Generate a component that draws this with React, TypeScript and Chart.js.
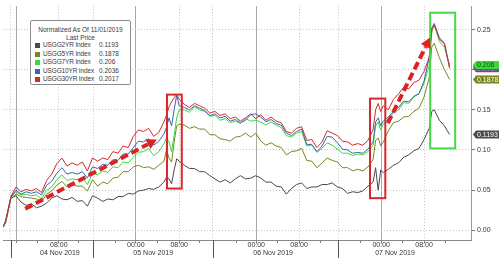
import React, { useEffect, useRef } from 'react';
import { Chart, registerables } from 'chart.js';

Chart.register(...registerables);

// ---- data ----
const seriesNames = ['USGG2YR Index', 'USGG5YR Index', 'USGG7YR Index', 'USGG10YR Index', 'USGG30YR Index'];
const lastPrices = ['0.1193', '0.1878', '0.206', '0.2036', '0.2017'];
const seriesColors = ['#4a4a4a', '#76871f', '#3ad83a', '#3568b0', '#d42a2a'];

// time position (approx. hours since 04 Nov 00:00)
const timeIdx = [-2.5, -2, -1, 0, 1, 2, 3, 4, 5, 6, 7, 8, 9, 10, 11, 12, 13, 14, 15, 16, 17, 18, 19, 20, 21, 22, 23, 24, 25, 26, 27, 28,
  29, 29.5, 30, 30.5, 31, 31.5, 32, 33, 34, 35, 36, 37, 38, 39, 40, 41, 42, 43, 44, 45, 46, 47, 48, 49, 50, 51, 52, 53, 54, 55, 56, 57, 58,
  59, 60, 61, 62, 63, 64, 65, 66, 67, 68, 69, 70, 70.5, 71, 71.5, 72, 73, 74, 75, 76, 77, 78, 79, 80, 81, 81.5, 82, 83, 84, 85];

const usgg2 = [0.004, 0.010, 0.040, 0.043,
  0.035, 0.031, 0.033, 0.028, 0.030, 0.034, 0.040, 0.043, 0.039, 0.038, 0.041, 0.036, 0.037, 0.030, 0.043,
  0.040, 0.036, 0.039, 0.038, 0.042, 0.042, 0.046, 0.045, 0.049, 0.050, 0.052, 0.051, 0.054,
  0.060, 0.066, 0.064, 0.058, 0.075, 0.089, 0.086,
  0.081, 0.077, 0.077, 0.073, 0.073, 0.068, 0.064, 0.060, 0.063, 0.059, 0.064, 0.068, 0.064, 0.065, 0.068,
  0.065, 0.060, 0.060, 0.055, 0.054, 0.045, 0.052, 0.057, 0.059, 0.052, 0.054, 0.054, 0.057, 0.057, 0.059, 0.054, 0.052, 0.046, 0.048, 0.047, 0.049, 0.055,
  0.060, 0.078, 0.050, 0.075, 0.072,
  0.076, 0.081, 0.084, 0.091, 0.094, 0.099, 0.102, 0.113, 0.127,
  0.148, 0.150, 0.137, 0.130, 0.1193];

const usgg5 = [0.004, 0.012, 0.040, 0.045,
  0.042, 0.041, 0.040, 0.039, 0.035, 0.045, 0.049, 0.056, 0.061, 0.054, 0.057, 0.055, 0.055, 0.049, 0.063,
  0.055, 0.060, 0.058, 0.065, 0.066, 0.073, 0.073, 0.079, 0.081, 0.078, 0.079, 0.076, 0.081,
  0.086, 0.100, 0.090, 0.085, 0.110, 0.130, 0.132,
  0.131, 0.127, 0.129, 0.126, 0.126, 0.119, 0.119, 0.114, 0.113, 0.111, 0.116, 0.117, 0.121, 0.116, 0.121,
  0.111, 0.106, 0.109, 0.105, 0.103, 0.094, 0.098, 0.099, 0.102, 0.087, 0.086, 0.078, 0.084, 0.090, 0.087, 0.085, 0.078, 0.078, 0.074, 0.076, 0.074, 0.079,
  0.088, 0.112, 0.115, 0.105, 0.110,
  0.124, 0.134, 0.136, 0.141, 0.142, 0.148, 0.152, 0.166, 0.190,
  0.228, 0.233, 0.215, 0.200, 0.1878];

const usgg7 = [0.004, 0.012, 0.041, 0.048,
  0.044, 0.045, 0.043, 0.044, 0.039, 0.050, 0.054, 0.063, 0.069, 0.062, 0.064, 0.063, 0.065, 0.057, 0.071,
  0.069, 0.074, 0.072, 0.079, 0.078, 0.085, 0.084, 0.091, 0.097, 0.098, 0.102, 0.093, 0.098,
  0.108, 0.115, 0.110, 0.098, 0.118, 0.140, 0.150,
  0.150, 0.147, 0.154, 0.150, 0.148, 0.142, 0.143, 0.137, 0.139, 0.134, 0.136, 0.133, 0.139, 0.136, 0.137,
  0.135, 0.131, 0.135, 0.131, 0.128, 0.118, 0.116, 0.121, 0.123, 0.105, 0.106, 0.097, 0.102, 0.109, 0.106, 0.101, 0.096, 0.096, 0.093, 0.095, 0.094, 0.098,
  0.106, 0.130, 0.135, 0.125, 0.132,
  0.139, 0.146, 0.150, 0.159, 0.158, 0.166, 0.170, 0.183, 0.205,
  0.245, 0.258, 0.235, 0.228, 0.206];

const usgg10 = [0.004, 0.012, 0.041, 0.050,
  0.045, 0.048, 0.046, 0.048, 0.044, 0.056, 0.061, 0.071, 0.078, 0.070, 0.072, 0.070, 0.073, 0.065, 0.079,
  0.077, 0.082, 0.081, 0.088, 0.087, 0.095, 0.095, 0.103, 0.111, 0.110, 0.114, 0.106, 0.111,
  0.120, 0.128, 0.140, 0.130, 0.150, 0.168, 0.155,
  0.153, 0.150, 0.155, 0.152, 0.149, 0.143, 0.145, 0.140, 0.142, 0.136, 0.138, 0.134, 0.137, 0.144, 0.145,
  0.141, 0.135, 0.138, 0.133, 0.131, 0.121, 0.118, 0.123, 0.126, 0.107, 0.107, 0.098, 0.105, 0.117, 0.116, 0.109, 0.101, 0.100, 0.096, 0.097, 0.096, 0.101,
  0.110, 0.135, 0.140, 0.130, 0.136,
  0.141, 0.148, 0.153, 0.161, 0.160, 0.167, 0.170, 0.186, 0.215,
  0.252, 0.257, 0.240, 0.233, 0.2036];

const usgg30 = [0.004, 0.013, 0.042, 0.054,
  0.048, 0.051, 0.049, 0.052, 0.047, 0.062, 0.070, 0.083, 0.090, 0.080, 0.084, 0.081, 0.085, 0.074, 0.090,
  0.086, 0.090, 0.088, 0.098, 0.096, 0.105, 0.103, 0.117, 0.125, 0.123, 0.127, 0.117, 0.122,
  0.135, 0.143, 0.154, 0.160, 0.165, 0.169, 0.163,
  0.157, 0.153, 0.158, 0.155, 0.152, 0.146, 0.148, 0.143, 0.145, 0.139, 0.141, 0.136, 0.140, 0.145, 0.139,
  0.144, 0.137, 0.141, 0.136, 0.134, 0.123, 0.121, 0.127, 0.129, 0.112, 0.113, 0.103, 0.110, 0.124, 0.121, 0.118, 0.111, 0.110, 0.106, 0.108, 0.106, 0.112,
  0.125, 0.150, 0.158, 0.148, 0.155,
  0.150, 0.163, 0.170, 0.178, 0.176, 0.184, 0.187, 0.198, 0.215,
  0.250, 0.255, 0.238, 0.232, 0.2017];

const allSeries = [usgg2, usgg5, usgg7, usgg10, usgg30];

// ---- axes ----
const yTicks = [0, 0.05, 0.1, 0.15, 0.2, 0.25];
const midnightTicks = [0, 23.5, 47.1, 71.6];
const morningTicks = [8.4, 32, 55.5, 80];
const sessionBreaks = [-1, 15.1, 38.6, 63.2];
const minorTicks = [4.2, 12.3, 19.5, 27.7, 35.9, 43.2, 51.3, 59.6, 67.6, 75.8, 84.2];
const dayCenters = [8.6, 26.9, 50.4, 74.3];
const dayLabels = ['04 Nov 2019', '05 Nov 2019', '06 Nov 2019', '07 Nov 2019'];
const xMin = -2.55;
const xMax = 89.2;

// ---- annotations (data coordinates) ----
const boxes = [
  { x0: 29.6, x1: 32.5, y0: 0.052, y1: 0.169, color: '#d9282c' },
  { x0: 69.4, x1: 72.4, y0: 0.040, y1: 0.164, color: '#d9282c' },
  { x0: 81.2, x1: 86.1, y0: 0.102, y1: 0.271, color: '#46d846' },
];
const arrows = [
  { x0: 1.8, y0: 0.0267, x1: 27.6, y1: 0.113 },
  { x0: 72.9, y0: 0.1335, x1: 81.2, y1: 0.240 },
];

const near = (arr: number[], v: number) => arr.some((a) => Math.abs(a - v) < 0.01);

const annotationPlugin = {
  id: 'annots',
  afterDatasetsDraw(chart: any) {
    const { ctx } = chart;
    const xs = chart.scales.x;
    const ys = chart.scales.y;
    ctx.save();
    boxes.forEach((b) => {
      const l = xs.getPixelForValue(b.x0), r = xs.getPixelForValue(b.x1);
      const t = ys.getPixelForValue(b.y1), bt = ys.getPixelForValue(b.y0);
      ctx.strokeStyle = b.color;
      ctx.lineWidth = 2;
      ctx.setLineDash([]);
      ctx.strokeRect(l, t, r - l, bt - t);
    });
    arrows.forEach((a) => {
      const px0 = xs.getPixelForValue(a.x0), py0 = ys.getPixelForValue(a.y0);
      const px1 = xs.getPixelForValue(a.x1), py1 = ys.getPixelForValue(a.y1);
      const ang = Math.atan2(py1 - py0, px1 - px0);
      const headLen = 10;
      const bx = px1 - Math.cos(ang) * headLen, by = py1 - Math.sin(ang) * headLen;
      ctx.strokeStyle = '#dd2222';
      ctx.lineWidth = 4;
      ctx.setLineDash([8, 4]);
      ctx.beginPath();
      ctx.moveTo(px0, py0);
      ctx.lineTo(bx, by);
      ctx.stroke();
      ctx.setLineDash([]);
      ctx.fillStyle = '#dd2222';
      ctx.beginPath();
      ctx.moveTo(px1, py1);
      ctx.lineTo(bx + Math.cos(ang + Math.PI / 2) * 5.5, by + Math.sin(ang + Math.PI / 2) * 5.5);
      ctx.lineTo(bx + Math.cos(ang - Math.PI / 2) * 5.5, by + Math.sin(ang - Math.PI / 2) * 5.5);
      ctx.closePath();
      ctx.fill();
    });
    ctx.restore();
  },
  afterDraw(chart: any) {
    const { ctx } = chart;
    const xs = chart.scales.x;
    const ys = chart.scales.y;
    const area = chart.chartArea;
    ctx.save();
    // session break ticks below the axis
    ctx.strokeStyle = '#555';
    ctx.lineWidth = 1;
    sessionBreaks.forEach((v) => {
      const px = Math.round(xs.getPixelForValue(v)) + 0.5;
      ctx.beginPath();
      ctx.moveTo(px, area.bottom);
      ctx.lineTo(px, chart.height);
      ctx.stroke();
    });
    // last price tags
    const order = [4, 3, 1, 0, 2];
    const tagText = ['#ffffff', '#ffffff', '#1c4a1c', '#ffffff', '#ffffff'];
    ctx.font = '7px "Liberation Sans"';
    ctx.textBaseline = 'middle';
    ctx.textAlign = 'left';
    order.forEach((i) => {
      const s = allSeries[i];
      const py = ys.getPixelForValue(s[s.length - 1]);
      const lx = area.right + 2;
      const rx = chart.width - 1;
      ctx.fillStyle = seriesColors[i];
      ctx.beginPath();
      ctx.moveTo(lx, py);
      ctx.lineTo(lx + 3, py - 4);
      ctx.lineTo(rx, py - 4);
      ctx.lineTo(rx, py + 4);
      ctx.lineTo(lx + 3, py + 4);
      ctx.closePath();
      ctx.fill();
      ctx.fillStyle = tagText[i];
      ctx.fillText(lastPrices[i], lx + 4, py + 0.5);
    });
    ctx.restore();
  },
};

function App() {
  const canvasRef = useRef<HTMLCanvasElement | null>(null);

  useEffect(() => {
    document.body.style.margin = '0';
    const canvas = canvasRef.current;
    if (!canvas) return;
    Chart.defaults.font.family = '"Liberation Sans", Arial, sans-serif';
    const drawOrder = [4, 3, 2, 1, 0];
    const chart = new Chart(canvas, {
      type: 'line',
      data: {
        datasets: drawOrder.map((i) => ({
          label: seriesNames[i],
          data: timeIdx.map((t, k) => ({ x: t, y: allSeries[i][k] })),
          borderColor: seriesColors[i],
          backgroundColor: seriesColors[i],
          borderWidth: 1,
          pointRadius: 0,
          tension: 0,
          fill: false,
        })),
      },
      options: {
        responsive: false,
        animation: false,
        layout: { padding: { left: 3, top: 0, right: 0, bottom: 0 } },
        plugins: { legend: { display: false }, tooltip: { enabled: false } },
        scales: {
          x: {
            type: 'linear',
            position: 'bottom',
            min: xMin,
            max: xMax,
            weight: 0,
            afterBuildTicks: (scale: any) => {
              const vals = [...sessionBreaks, ...midnightTicks, ...morningTicks, ...minorTicks].sort((a, b) => a - b);
              scale.ticks = vals.map((v) => ({ value: v }));
            },
            afterFit: (scale: any) => { scale.height = 9; },
            ticks: {
              autoSkip: false,
              maxRotation: 0,
              padding: -2,
              color: '#333',
              font: { size: 7 },
              callback: (v: any) => {
                const n = Number(v);
                if (near(morningTicks, n)) return '08:00';
                if (near(midnightTicks, n) && n > 1) return '00:00';
                return '';
              },
            },
            grid: {
              drawOnChartArea: true,
              drawTicks: true,
              tickLength: 3,
              lineWidth: 1,
              color: (c: any) => {
                const v = c.tick ? c.tick.value : NaN;
                if (near(midnightTicks, v)) return '#a8a8a8';
                if (near(morningTicks, v) || near(sessionBreaks, v)) return '#c4c4c4';
                return 'rgba(0,0,0,0)';
              },
              tickColor: (c: any) => {
                const v = c.tick ? c.tick.value : NaN;
                if (near(sessionBreaks, v)) return 'rgba(0,0,0,0)';
                return '#777';
              },
            },
            border: {
              display: true,
              color: '#888',
              width: 1,
              dash: (c: any) => {
                const v = c.tick ? c.tick.value : NaN;
                if (near(midnightTicks, v)) return [];
                return [1, 2];
              },
            },
          },
          x2: {
            type: 'linear',
            position: 'bottom',
            min: xMin,
            max: xMax,
            weight: 1,
            afterBuildTicks: (scale: any) => {
              scale.ticks = dayCenters.map((v) => ({ value: v }));
            },
            afterFit: (scale: any) => { scale.height = 9; },
            ticks: {
              autoSkip: false,
              maxRotation: 0,
              padding: 0,
              color: '#333',
              font: { size: 7 },
              callback: (v: any) => {
                const idx = dayCenters.findIndex((d) => Math.abs(d - Number(v)) < 0.01);
                return idx >= 0 ? dayLabels[idx] : '';
              },
            },
            grid: { display: false, drawTicks: false },
            border: { display: false },
          },
          y: {
            type: 'linear',
            position: 'right',
            min: -0.0121,
            max: 0.2791,
            afterBuildTicks: (scale: any) => {
              scale.ticks = yTicks.map((v) => ({ value: v }));
            },
            afterFit: (scale: any) => { scale.width = 29; },
            ticks: {
              padding: 2,
              color: '#333',
              font: { size: 7 },
              callback: (v: any) => Number(v).toFixed(2),
            },
            grid: {
              color: '#c4c4c4',
              lineWidth: 1,
              drawTicks: true,
              tickLength: 4,
              tickColor: '#777',
            },
            border: { display: true, color: '#999', width: 1, dash: [1, 2] },
          },
        },
      } as any,
      plugins: [annotationPlugin],
    });
    return () => chart.destroy();
  }, []);

  const rowTops = [20, 29, 37, 46, 54];
  return (
    <div style={{ position: 'relative', width: 500, height: 258, background: '#fff', overflow: 'hidden' }}>
      <canvas ref={canvasRef} width={500} height={258} style={{ display: 'block' }} />
      <div
        style={{
          position: 'absolute', left: 30, top: 20, width: 99, height: 63,
          background: '#fff', border: '1px solid #8c8c8c', borderRadius: 2,
          fontFamily: '"Liberation Sans", Arial, sans-serif', fontSize: 6.5, color: '#3a3a3a',
          lineHeight: '8px',
        }}
      >
        <div style={{ position: 'absolute', left: 0, right: 0, top: 5, textAlign: 'center', whiteSpace: 'nowrap' }}>
          Normalized As Of 11/01/2019
        </div>
        <div style={{ position: 'absolute', left: 0, right: 0, top: 13, textAlign: 'center' }}>Last Price</div>
        {seriesNames.map((n, i) => (
          <div key={n} style={{ position: 'absolute', left: 0, right: 0, top: rowTops[i], height: 8, whiteSpace: 'nowrap' }}>
            <span style={{ position: 'absolute', left: 4, top: 1.5, width: 5, height: 5, background: seriesColors[i] }} />
            <span style={{ position: 'absolute', left: 12, top: 0, letterSpacing: '-0.15px' }}>{n}</span>
            <span style={{ position: 'absolute', left: 68, top: 0 }}>{lastPrices[i]}</span>
          </div>
        ))}
      </div>
    </div>
  );
}

export default App;
